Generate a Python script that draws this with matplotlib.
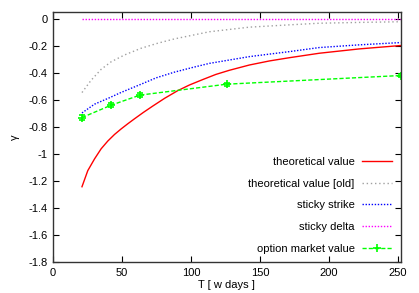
import numpy as np
import matplotlib
matplotlib.use("Agg")
import matplotlib.pyplot as plt
from matplotlib.lines import Line2D

plt.rcParams['font.family'] = ['Liberation Sans', 'DejaVu Sans']
plt.rcParams['font.size'] = 8

# values
t_theo = [21, 25.2, 30.1, 34.9, 39.7, 44.6, 49.4, 54.2, 59.1, 65.5, 72.3, 81, 90.4,
          98.9, 108.5, 118, 127.9, 142.4, 156.9, 171.4, 193.1, 222, 252]
g_theo = [-1.243, -1.124, -1.037, -0.962, -0.905, -0.856, -0.815, -0.777, -0.740,
          -0.693, -0.646, -0.588, -0.532, -0.490, -0.450, -0.412, -0.381, -0.342,
          -0.312, -0.288, -0.255, -0.223, -0.198]

t_old = [21, 27.7, 34.9, 42.2, 51.8, 63.9, 75.9, 88, 113.4, 142.4, 171.4, 193, 222, 252]
g_old = [-0.546, -0.454, -0.374, -0.318, -0.268, -0.218, -0.181, -0.149, -0.096,
         -0.062, -0.045, -0.033, -0.027, -0.022]

t_strike = [21, 30.1, 39.7, 49.4, 63.9, 74.8, 88, 101.3, 113.4, 127.9, 142.4, 171.4,
            193, 222, 252]
g_strike = [-0.697, -0.632, -0.59, -0.545, -0.484, -0.437, -0.395, -0.36, -0.330,
            -0.305, -0.28, -0.243, -0.213, -0.193, -0.176]

t_delta = [21, 252]
g_delta = [0.0, 0.0]

t_mkt = [21, 42, 63, 126, 252]
g_mkt = [-0.731, -0.64, -0.565, -0.484, -0.42]
err_mkt = [0.02, 0.015, 0.012, 0.01, 0.01]

fig = plt.figure(figsize=(4.19, 2.93), dpi=100)
ax = fig.add_axes([0.1265, 0.1058, 0.8298, 0.8532])

ax.plot(t_theo, g_theo, color='#ff0000', lw=1.0, label='theoretical value')
ax.plot(t_old, g_old, color='#a0a0a0', lw=1.0, ls=(0, (1, 2)), label='theoretical value [old]')
ax.plot(t_strike, g_strike, color='#0000ff', lw=1.0, ls=(0, (1, 1.2)), label='sticky strike')
ax.plot(t_delta, g_delta, color='#ff00ff', lw=1.0, ls=(0, (1, 1.2)), label='sticky delta')
ax.errorbar(t_mkt, g_mkt, yerr=err_mkt, color='#00ff00', lw=1.0, ls=(0, (3, 1.5)),
            marker='+', ms=6, mew=1.2, capsize=2)

handles, labels = ax.get_legend_handles_labels()
handles.append(Line2D([], [], color='#00ff00', lw=1.0, ls=(0, (3, 1.5)),
                      marker='+', ms=6, mew=1.2))
labels.append('option market value')

ax.set_xlim(0, 252)
ax.set_ylim(-1.8, 0.05)
ax.set_xticks(np.arange(0, 251, 50))
ax.set_yticks(np.arange(-1.8, 0.01, 0.2))
ax.set_yticklabels(['-1.8', '-1.6', '-1.4', '-1.2', '-1', '-0.8', '-0.6', '-0.4', '-0.2', '0'])
ax.tick_params(direction='in', top=True, right=True, length=4, width=0.8, pad=4)
for s in ax.spines.values():
    s.set_linewidth(1.0)
    s.set_color('#333333')

ax.set_xlabel('T [ w days ]', labelpad=2)
ax.set_ylabel('γ', rotation=90, labelpad=6)

ax.legend(handles, labels, loc='lower right', frameon=False, markerfirst=False,
          handlelength=2.7, labelspacing=1.05, borderaxespad=0.35, handletextpad=0.7)

fig.savefig('out.png', dpi=100)
